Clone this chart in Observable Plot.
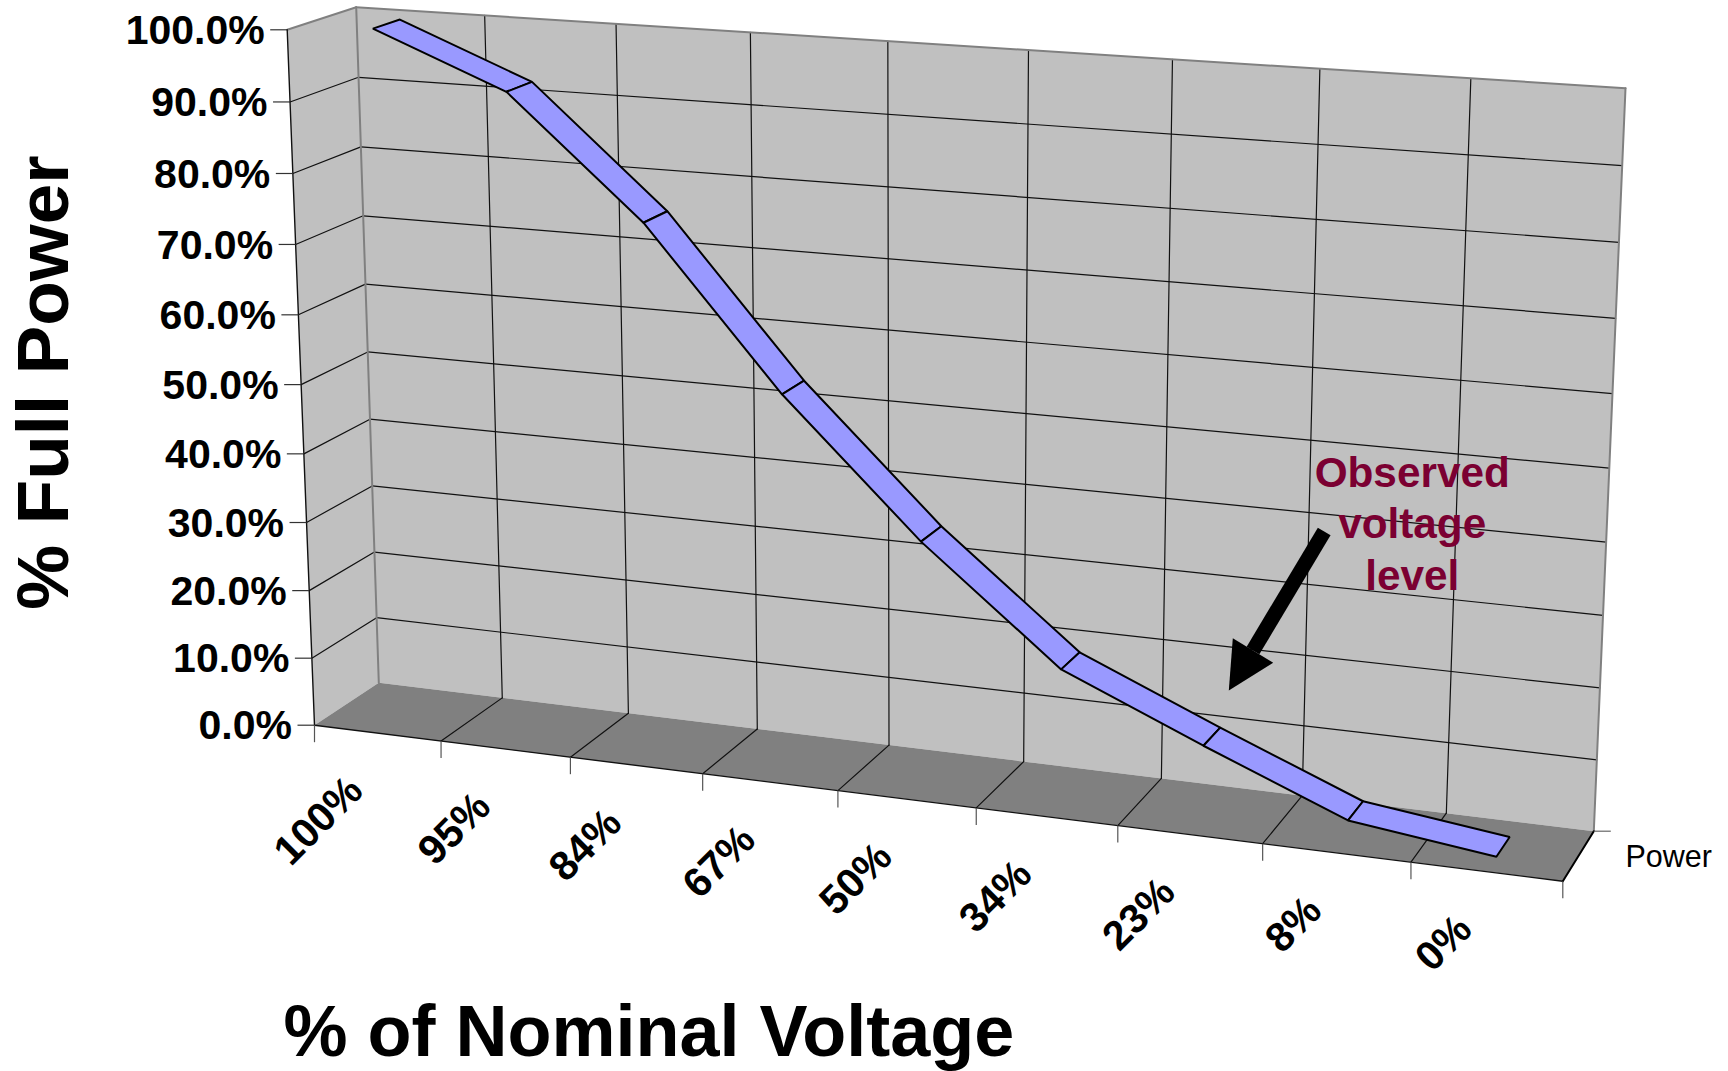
<!DOCTYPE html>
<html>
<head>
<meta charset="utf-8">
<script src="https://cdn.jsdelivr.net/npm/d3@7"></script>
<script src="https://cdn.jsdelivr.net/npm/@observablehq/plot@0.6"></script>
<style>
html,body{margin:0;padding:0;background:#fff}
svg{display:block}
</style>
</head>
<body>
<div id="chart"></div>
<script>
// ---- chart values ----
const voltageLabels = ["100%","95%","84%","67%","50%","34%","23%","8%","0%"];
const powerValues   = [99.8, 92.3, 75.6, 53.4, 34.7, 18.9, 10.5, 2.5, 0];
const powerTicks    = [0,10,20,30,40,50,60,70,80,90,100];
const seriesName    = "Power";
const xTitle = "% of Nominal Voltage";
const yTitle = "% Full Power";
const noteLines = ["Observed","voltage","level"];

// ---- oblique view of the box (pixel corners of back wall and front plane) ----
const backQuad  = [[378.3,682.3],[1593.3,830.7],[1625,87.7],[355.7,6.7]];
const frontQuad = [[314,724.7],[1562.3,880.7],[1590,114],[286.7,29.3]];
function homography(q){
  const [[x0,y0],[x1,y1],[x2,y2],[x3,y3]] = q;
  const dx1=x1-x2,dx2=x3-x2,sx=x0-x1+x2-x3,dy1=y1-y2,dy2=y3-y2,sy=y0-y1+y2-y3;
  const den=dx1*dy2-dx2*dy1;
  const g=(sx*dy2-dx2*sy)/den,h=(dx1*sy-sx*dy1)/den;
  const a=x1-x0+g*x1,b=x3-x0+h*x3,d=y1-y0+g*y1,e=y3-y0+h*y3;
  return (u,v)=>{const w=g*u+h*v+1;return [(a*u+b*v+x0)/w,(d*u+e*v+y0)/w];};
}
const hBack=homography(backQuad),hFront=homography(frontQuad);
const nCat=voltageLabels.length;
// i: category position 0..nCat, p: percent power, z: depth 0 (back)..1 (front)
function project(i,p,z){
  const A=hBack(i/nCat,p/100),B=hFront(i/nCat,p/100);
  return [A[0]+(B[0]-A[0])*z,A[1]+(B[1]-A[1])*z];
}
const pt=(i,p,z,id)=>{const [x,y]=project(i,p,z);return {x,y,id};};
const seg=(id,a,b)=>[pt(...a,id),pt(...b,id)];

const ribbonBack=0.3, ribbonFront=0.7;

// surfaces
const backWall=[[0,0,0],[nCat,0,0],[nCat,100,0],[0,100,0]].map(a=>pt(...a,"w"));
const sideWall=[[0,0,0],[0,100,0],[0,100,1],[0,0,1]].map(a=>pt(...a,"s"));
const floor=[[0,0,0],[nCat,0,0],[nCat,0,1],[0,0,1]].map(a=>pt(...a,"f"));

// grid
const gridDark=[];
powerTicks.filter(p=>p>0&&p<100).forEach(p=>{
  gridDark.push(...seg("b"+p,[0,p,0],[nCat,p,0]));
  gridDark.push(...seg("s"+p,[0,p,0],[0,p,1]));
});
d3.range(1,nCat).forEach(i=>{
  gridDark.push(...seg("v"+i,[i,0,0],[i,100,0]));
  gridDark.push(...seg("f"+i,[i,0,0],[i,0,1]));
});
const edgesGrey=[
  ...seg("e1",[0,0,0],[0,100,0]),
  ...seg("e2",[0,100,0],[nCat,100,0]),
  ...seg("e3",[nCat,100,0],[nCat,0,0]),
  ...seg("e4",[0,100,0],[0,100,1])
];
const edgesDark=[
  ...seg("d1",[0,0,1],[0,100,1]),
  ...seg("d2",[0,0,1],[nCat,0,1])
];
const edgeRight=seg("r",[nCat,0,1],[nCat,0,0]);

// ticks
const yTickRows=powerTicks.map(p=>{const [x,y]=project(0,p,1);return {x,y,p};});
const xTickRows=d3.range(0,nCat+1).map(i=>{const [x,y]=project(i,0,1);return {x,y};});
const tickLen=17;
const xLabelRows=voltageLabels.map((t,i)=>{const [x,y]=project(i+.5,0,1);return {x:x-12.5,y:y+60,t};});

// ribbon
const ribbon=[];
powerValues.slice(0,-1).forEach((p,i)=>{
  const q=powerValues[i+1];
  [[i+.5,p,ribbonBack],[i+1.5,q,ribbonBack],[i+1.5,q,ribbonFront],[i+.5,p,ribbonFront]]
    .forEach(a=>ribbon.push(pt(...a,"r"+i)));
});

const font="Liberation Sans, Arial, sans-serif";
const chart=Plot.plot({
  width:1728,height:1071,margin:0,
  x:{domain:[0,1728],range:[0,1728],axis:null},
  y:{domain:[0,1071],range:[0,1071],axis:null},
  style:{background:"#fff",fontFamily:font},
  marks:[
    Plot.line(backWall,{x:"x",y:"y",z:"id",curve:"linear-closed",fill:"#c0c0c0",stroke:"none"}),
    Plot.line(sideWall,{x:"x",y:"y",z:"id",curve:"linear-closed",fill:"#c0c0c0",stroke:"none"}),
    Plot.line(floor,{x:"x",y:"y",z:"id",curve:"linear-closed",fill:"#808080",stroke:"none"}),
    Plot.line(gridDark,{x:"x",y:"y",z:"id",stroke:"#111",strokeWidth:1.2}),
    Plot.line(edgesGrey,{x:"x",y:"y",z:"id",stroke:"#808080",strokeWidth:2}),
    Plot.line(edgesDark,{x:"x",y:"y",z:"id",stroke:"#111",strokeWidth:1.4}),
    Plot.line(edgeRight,{x:"x",y:"y",z:"id",stroke:"#000",strokeWidth:2}),
    // ticks
    Plot.link(yTickRows,{x1:d=>d.x-tickLen,x2:"x",y1:"y",y2:"y",stroke:"#333",strokeWidth:1.2}),
    Plot.link(xTickRows,{x1:"x",x2:"x",y1:"y",y2:d=>d.y+tickLen,stroke:"#555",strokeWidth:1.2}),
    Plot.link([project(nCat,0,0)],{x1:d=>d[0],x2:d=>d[0]+tickLen,y1:d=>d[1],y2:d=>d[1],stroke:"#666",strokeWidth:1.2}),
    // ribbon
    Plot.line(ribbon,{x:"x",y:"y",z:"id",curve:"linear-closed",fill:"#9999ff",stroke:"#000",strokeWidth:2,strokeLinejoin:"miter"}),
    // tick labels
    Plot.text(yTickRows,{x:d=>d.x-tickLen-5.5,y:d=>d.y+1,text:d=>d3.format(".1f")(d.p)+"%",textAnchor:"end",fontSize:41,fontWeight:"bold",fill:"#000"}),
    Plot.text(xLabelRows,{x:"x",y:"y",text:"t",rotate:-45,textAnchor:"end",lineAnchor:"bottom",fontSize:41,fontWeight:"bold",fill:"#000"}),
    Plot.text([seriesName],{x:1625,y:866.7,text:d=>d,textAnchor:"start",lineAnchor:"bottom",fontSize:30.5,fill:"#000"}),
    // titles
    Plot.text([xTitle],{x:283,y:1055,text:d=>d,textAnchor:"start",lineAnchor:"bottom",fontSize:72,fontWeight:"bold",fill:"#000"}),
    Plot.text([yTitle],{x:67.5,y:382,text:d=>d,rotate:-90,textAnchor:"middle",lineAnchor:"bottom",fontSize:73,fontWeight:"bold",fill:"#000"}),
    // annotation
    Plot.text(noteLines,{x:1411.7,y:(d,i)=>486+i*51.5,text:d=>d,textAnchor:"middle",lineAnchor:"bottom",fontSize:42.3,fontWeight:"bold",fill:"#7b0032"}),
    Plot.link([0],{x1:1323.7,y1:531,x2:1252.5,y2:650,stroke:"#000",strokeWidth:14.8}),
    Plot.line([[1228.3,690],[1232.3,637.7],[1272.7,662.3]],{x:d=>d[0],y:d=>d[1],curve:"linear-closed",fill:"#000",stroke:"none"})
  ]
});
document.getElementById("chart").appendChild(chart);
</script>
</body>
</html>
